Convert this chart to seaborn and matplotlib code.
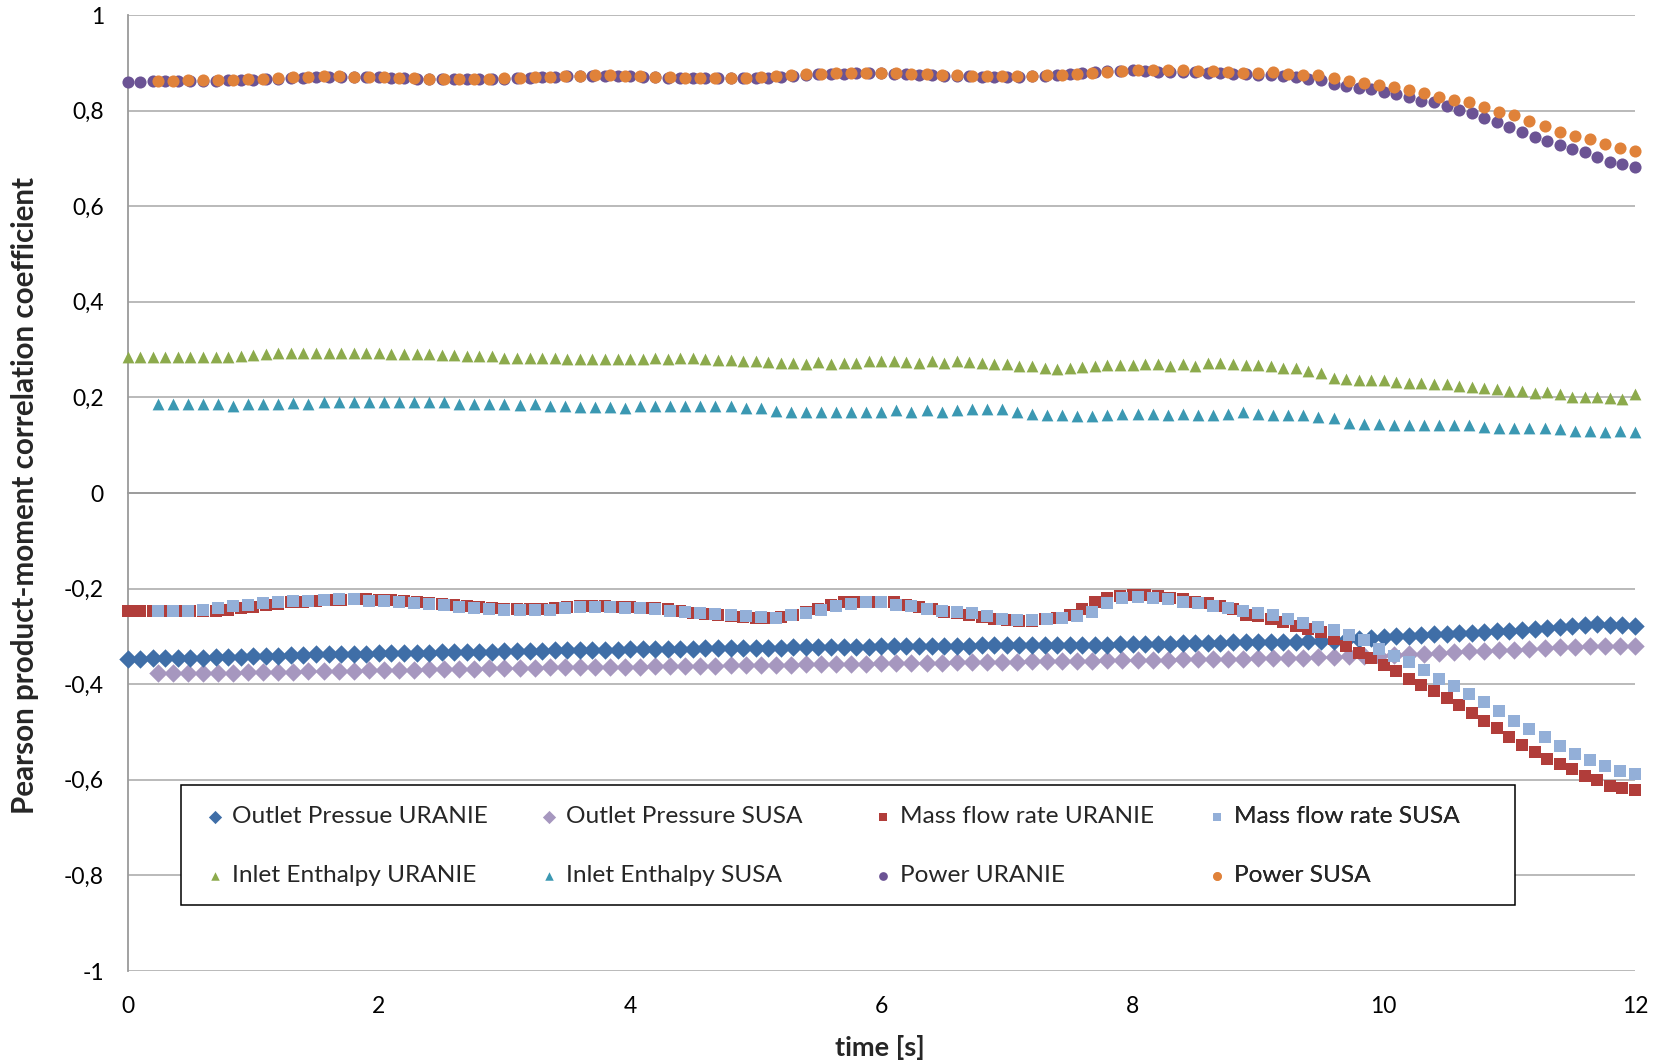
import numpy as np
import pandas as pd
import matplotlib
matplotlib.use("Agg")
import matplotlib.pyplot as plt
from matplotlib.patches import Rectangle
import seaborn as sns

# ---------------- data ----------------
# time grids
t_uranie = np.round(np.arange(121) * 0.1, 2)          # 0.0 ... 12.0
t_susa = np.round(0.24 + np.arange(99) * 0.12, 2)     # 0.24 ... 12.0

outlet_pressure_uranie = [
    -0.347, -0.347, -0.346, -0.346, -0.346, -0.345, -0.345, -0.344, -0.344, -0.343,
    -0.342, -0.341, -0.340, -0.339, -0.338, -0.337, -0.337, -0.336, -0.336, -0.336,
    -0.335, -0.335, -0.334, -0.334, -0.334, -0.333, -0.333, -0.333, -0.332, -0.332,
    -0.331, -0.331, -0.330, -0.330, -0.329, -0.329, -0.329, -0.328, -0.328, -0.328,
    -0.327, -0.327, -0.327, -0.326, -0.326, -0.326, -0.325, -0.325, -0.325, -0.325,
    -0.324, -0.324, -0.324, -0.323, -0.323, -0.323, -0.322, -0.322, -0.322, -0.322,
    -0.321, -0.321, -0.321, -0.321, -0.320, -0.320, -0.320, -0.320, -0.319, -0.319,
    -0.319, -0.319, -0.318, -0.318, -0.318, -0.318, -0.317, -0.317, -0.317, -0.316,
    -0.316, -0.316, -0.315, -0.315, -0.314, -0.314, -0.313, -0.313, -0.312, -0.312,
    -0.312, -0.311, -0.311, -0.311, -0.310, -0.310, -0.309, -0.308, -0.306, -0.304,
    -0.302, -0.300, -0.299, -0.297, -0.296, -0.294, -0.293, -0.292, -0.290, -0.289,
    -0.288, -0.286, -0.285, -0.283, -0.281, -0.279, -0.276, -0.274, -0.276, -0.277,
    -0.278]

outlet_pressure_susa = [
    -0.377, -0.377, -0.377, -0.376, -0.376, -0.376, -0.375, -0.375, -0.374,
    -0.374, -0.373, -0.373, -0.372, -0.372, -0.371, -0.371, -0.370, -0.370,
    -0.369, -0.369, -0.368, -0.368, -0.367, -0.367, -0.366, -0.366, -0.365,
    -0.365, -0.364, -0.364, -0.364, -0.363, -0.363, -0.362, -0.362, -0.361,
    -0.361, -0.361, -0.360, -0.360, -0.360, -0.359, -0.359, -0.358, -0.358,
    -0.358, -0.357, -0.357, -0.356, -0.356, -0.356, -0.355, -0.355, -0.354,
    -0.354, -0.354, -0.353, -0.353, -0.352, -0.352, -0.352, -0.351, -0.351,
    -0.350, -0.350, -0.350, -0.349, -0.349, -0.348, -0.348, -0.347, -0.347,
    -0.347, -0.346, -0.346, -0.345, -0.345, -0.344, -0.343, -0.342, -0.341,
    -0.340, -0.339, -0.337, -0.336, -0.334, -0.333, -0.331, -0.330, -0.329,
    -0.328, -0.326, -0.325, -0.323, -0.322, -0.321, -0.320, -0.321, -0.321]

mass_flow_uranie = [
    -0.247, -0.247, -0.247, -0.247, -0.247, -0.247, -0.247, -0.246, -0.244, -0.241,
    -0.238, -0.235, -0.232, -0.229, -0.227, -0.225, -0.224, -0.223, -0.222, -0.222,
    -0.223, -0.224, -0.226, -0.229, -0.231, -0.233, -0.235, -0.237, -0.239, -0.241,
    -0.242, -0.243, -0.243, -0.242, -0.240, -0.238, -0.237, -0.237, -0.237, -0.238,
    -0.239, -0.240, -0.241, -0.243, -0.246, -0.250, -0.253, -0.256, -0.258, -0.260,
    -0.261, -0.261, -0.260, -0.256, -0.248, -0.242, -0.235, -0.229, -0.228, -0.227,
    -0.228, -0.229, -0.234, -0.238, -0.243, -0.249, -0.251, -0.255, -0.259, -0.263,
    -0.266, -0.268, -0.267, -0.264, -0.262, -0.256, -0.242, -0.228, -0.220, -0.215,
    -0.213, -0.213, -0.215, -0.219, -0.222, -0.227, -0.231, -0.236, -0.242, -0.256,
    -0.257, -0.263, -0.270, -0.278, -0.284, -0.291, -0.305, -0.320, -0.334, -0.345,
    -0.359, -0.373, -0.389, -0.401, -0.415, -0.429, -0.443, -0.460, -0.476, -0.492,
    -0.510, -0.527, -0.541, -0.557, -0.567, -0.578, -0.592, -0.600, -0.614, -0.618,
    -0.621]

mass_flow_susa = [
    -0.247, -0.247, -0.247, -0.244, -0.241, -0.237, -0.235, -0.230, -0.228, -0.226,
    -0.225, -0.223, -0.222, -0.222, -0.225, -0.226, -0.227, -0.230, -0.233, -0.235,
    -0.239, -0.241, -0.242, -0.244, -0.245, -0.245, -0.244, -0.241, -0.239, -0.239,
    -0.239, -0.240, -0.240, -0.242, -0.246, -0.249, -0.251, -0.254, -0.256, -0.258,
    -0.260, -0.262, -0.256, -0.252, -0.245, -0.236, -0.232, -0.229, -0.229, -0.234,
    -0.237, -0.242, -0.246, -0.249, -0.252, -0.257, -0.263, -0.266, -0.266, -0.264,
    -0.261, -0.258, -0.249, -0.231, -0.220, -0.217, -0.219, -0.221, -0.227, -0.231,
    -0.236, -0.241, -0.247, -0.252, -0.256, -0.264, -0.273, -0.280, -0.287, -0.298,
    -0.308, -0.326, -0.341, -0.354, -0.371, -0.389, -0.404, -0.420, -0.438, -0.457,
    -0.476, -0.494, -0.511, -0.529, -0.546, -0.558, -0.572, -0.581, -0.587]

inlet_enthalpy_uranie = [
    0.285, 0.285, 0.285, 0.285, 0.285, 0.285, 0.285, 0.285, 0.285, 0.287,
    0.289, 0.290, 0.292, 0.292, 0.292, 0.292, 0.292, 0.292, 0.292, 0.292,
    0.292, 0.290, 0.290, 0.290, 0.290, 0.288, 0.288, 0.286, 0.286, 0.286,
    0.283, 0.283, 0.283, 0.283, 0.283, 0.280, 0.280, 0.280, 0.280, 0.280,
    0.280, 0.280, 0.282, 0.280, 0.282, 0.283, 0.280, 0.278, 0.278, 0.276,
    0.276, 0.274, 0.272, 0.272, 0.270, 0.274, 0.270, 0.272, 0.272, 0.276,
    0.276, 0.276, 0.274, 0.272, 0.276, 0.272, 0.276, 0.274, 0.272, 0.270,
    0.270, 0.266, 0.266, 0.262, 0.260, 0.261, 0.263, 0.266, 0.268, 0.268,
    0.268, 0.270, 0.270, 0.266, 0.270, 0.265, 0.272, 0.272, 0.270, 0.268,
    0.268, 0.266, 0.262, 0.261, 0.255, 0.252, 0.241, 0.239, 0.237, 0.236,
    0.236, 0.232, 0.231, 0.231, 0.229, 0.227, 0.224, 0.222, 0.220, 0.217,
    0.214, 0.213, 0.210, 0.212, 0.207, 0.201, 0.201, 0.200, 0.199, 0.197,
    0.207]

inlet_enthalpy_susa = [
    0.186, 0.186, 0.186, 0.186, 0.186, 0.183, 0.186, 0.186, 0.186, 0.189,
    0.187, 0.190, 0.190, 0.190, 0.190, 0.190, 0.190, 0.190, 0.190, 0.190,
    0.186, 0.186, 0.186, 0.186, 0.184, 0.186, 0.182, 0.182, 0.179, 0.179,
    0.179, 0.177, 0.181, 0.181, 0.181, 0.181, 0.183, 0.181, 0.181, 0.178,
    0.178, 0.172, 0.170, 0.170, 0.170, 0.170, 0.170, 0.170, 0.170, 0.174,
    0.170, 0.174, 0.170, 0.174, 0.175, 0.175, 0.175, 0.170, 0.165, 0.163,
    0.163, 0.161, 0.161, 0.163, 0.165, 0.166, 0.166, 0.164, 0.166, 0.164,
    0.164, 0.166, 0.170, 0.166, 0.164, 0.164, 0.163, 0.159, 0.157, 0.146,
    0.145, 0.145, 0.143, 0.143, 0.143, 0.142, 0.142, 0.142, 0.139, 0.137,
    0.136, 0.136, 0.136, 0.134, 0.130, 0.130, 0.128, 0.130, 0.128]

power_uranie = [
    0.860, 0.860, 0.861, 0.862, 0.862, 0.862, 0.862, 0.861, 0.863, 0.864,
    0.865, 0.866, 0.867, 0.868, 0.869, 0.870, 0.871, 0.871, 0.871, 0.871,
    0.870, 0.869, 0.868, 0.867, 0.867, 0.866, 0.866, 0.866, 0.866, 0.867,
    0.867, 0.868, 0.869, 0.870, 0.871, 0.872, 0.872, 0.873, 0.873, 0.873,
    0.872, 0.871, 0.870, 0.869, 0.868, 0.868, 0.868, 0.868, 0.868, 0.868,
    0.868, 0.869, 0.871, 0.873, 0.875, 0.876, 0.877, 0.877, 0.878, 0.878,
    0.878, 0.877, 0.876, 0.875, 0.874, 0.873, 0.872, 0.872, 0.871, 0.871,
    0.871, 0.871, 0.872, 0.873, 0.874, 0.876, 0.878, 0.880, 0.882, 0.883,
    0.884, 0.883, 0.881, 0.881, 0.881, 0.880, 0.879, 0.878, 0.877, 0.876,
    0.875, 0.874, 0.872, 0.870, 0.867, 0.863, 0.855, 0.852, 0.848, 0.845,
    0.839, 0.834, 0.829, 0.821, 0.817, 0.810, 0.801, 0.794, 0.784, 0.777,
    0.765, 0.755, 0.745, 0.736, 0.727, 0.719, 0.713, 0.703, 0.692, 0.688,
    0.683]

power_susa = [
    0.862, 0.862, 0.863, 0.863, 0.863, 0.864, 0.866, 0.867, 0.869, 0.870,
    0.871, 0.872, 0.872, 0.871, 0.870, 0.870, 0.869, 0.868, 0.867, 0.867,
    0.866, 0.866, 0.867, 0.868, 0.869, 0.870, 0.871, 0.872, 0.873, 0.874,
    0.874, 0.873, 0.872, 0.871, 0.870, 0.869, 0.869, 0.869, 0.869, 0.869,
    0.870, 0.872, 0.874, 0.876, 0.877, 0.878, 0.879, 0.879, 0.879, 0.878,
    0.877, 0.876, 0.875, 0.874, 0.873, 0.873, 0.872, 0.872, 0.873, 0.874,
    0.875, 0.877, 0.879, 0.881, 0.883, 0.885, 0.885, 0.885, 0.885, 0.883,
    0.883, 0.880, 0.878, 0.878, 0.880, 0.876, 0.875, 0.875, 0.869, 0.861,
    0.857, 0.854, 0.849, 0.843, 0.836, 0.829, 0.822, 0.817, 0.807, 0.798,
    0.791, 0.779, 0.768, 0.756, 0.747, 0.740, 0.730, 0.721, 0.716]

y_ticks = [-1, -0.8, -0.6, -0.4, -0.2, 0, 0.2, 0.4, 0.6, 0.8, 1]
y_tick_labels = ["-1", "-0,8", "-0,6", "-0,4", "-0,2", "0", "0,2", "0,4", "0,6", "0,8", "1"]
x_ticks = [0, 2, 4, 6, 8, 10, 12]
x_tick_labels = ["0", "2", "4", "6", "8", "10", "12"]

# (label, time, values, marker, colour, size) in drawing order
series = [
    ("Outlet Pressure SUSA", t_susa, outlet_pressure_susa, "D", "#A697BF", 88),
    ("Outlet Pressue URANIE", t_uranie, outlet_pressure_uranie, "D", "#3F6EA7", 88),
    ("Mass flow rate URANIE", t_uranie, mass_flow_uranie, "s", "#B13D3A", 68),
    ("Mass flow rate SUSA", t_susa, mass_flow_susa, "s", "#93AFD8", 68),
    ("Inlet Enthalpy URANIE", t_uranie, inlet_enthalpy_uranie, "^", "#8CAA4C", 72),
    ("Inlet Enthalpy SUSA", t_susa, inlet_enthalpy_susa, "^", "#3B98B2", 72),
    ("Power URANIE", t_uranie, power_uranie, "o", "#6B5394", 76),
    ("Power SUSA", t_susa, power_susa, "o", "#E0823A", 76),
]

# ---------------- style ----------------
sns.set_style("white")
plt.rcParams["font.family"] = ["Lato", "DejaVu Sans"]

W, H = 1668, 1062
fig = plt.figure(figsize=(W / 100, H / 100), dpi=100)
x0, x1, ytop, ybot = 127.6, 1635.0, 15.0, 971.0
ax = fig.add_axes([x0 / W, 1 - ybot / H, (x1 - x0) / W, (ybot - ytop) / H])

handles = {}
for label, t, vals, mk, col, s in series:
    df = pd.DataFrame({"t": t, "v": vals})
    sns.scatterplot(data=df, x="t", y="v", marker=mk, color=col, s=s,
                    linewidth=0, ax=ax, label=label, legend=False, zorder=3)
    coll = ax.collections[-1]
    coll.set_clip_on(False)
    handles[label] = coll

ax.set_xlim(0, 12)
ax.set_ylim(-1, 1)
ax.set_xlabel("")
ax.set_ylabel("")

# grid
grid_col = "#B4B4B4"
ax.set_yticks(y_ticks, y_tick_labels)
ax.yaxis.grid(True, color=grid_col, linewidth=1.3, zorder=0)
ax.set_axisbelow(True)

for sp in ["top", "right"]:
    ax.spines[sp].set_visible(False)
ax.spines["left"].set_color("#9A9A9A")
ax.spines["left"].set_linewidth(1.3)
ax.spines["bottom"].set_position(("data", 0))
ax.spines["bottom"].set_color("#9A9A9A")
ax.spines["bottom"].set_linewidth(1.3)

ax.set_xticks(x_ticks)
ax.set_xticks(np.arange(0, 12.01, 0.4), minor=True)
ax.tick_params(axis="x", which="major", direction="inout", length=15, width=1.3,
               color="#9A9A9A", labelbottom=False)
ax.tick_params(axis="x", which="minor", direction="inout", length=12, width=1.3,
               color="#9A9A9A")
ax.tick_params(axis="y", which="major", direction="out", length=7, width=1.3,
               color="#9A9A9A", labelsize=16.5, pad=10, labelcolor="black")

sec = ax.secondary_xaxis(location=0)
sec.set_xticks(x_ticks, x_tick_labels)
sec.tick_params(length=0, pad=18, labelsize=16.5, labelcolor="black")
sec.spines["bottom"].set_visible(False)

fig.text(880 / W, 1 - 1047 / H, "time [s]", ha="center", va="center",
         fontsize=19.5, fontweight="bold")
fig.text(25 / W, 1 - 495 / H, "Pearson product-moment correlation coefficient",
         ha="center", va="center", rotation=90, fontsize=21.3, fontweight="bold")

# ---------------- legend ----------------
cols = [
    ["Outlet Pressue URANIE", "Inlet Enthalpy URANIE"],
    ["Outlet Pressure SUSA", "Inlet Enthalpy SUSA"],
    ["Mass flow rate URANIE", "Power URANIE"],
    ["Mass flow rate SUSA", "Power SUSA"],
]
col_px = [205, 539, 873, 1207]
top_px = 806
axw, axh = x1 - x0, ybot - ytop
for i, labs in enumerate(cols):
    leg = ax.legend([handles[l] for l in labs], labs, loc="upper left",
                    bbox_to_anchor=((col_px[i] - x0) / axw, (ybot - top_px) / axh),
                    frameon=False, fontsize=17.6, markerscale=0.72, handlelength=0.8,
                    handletextpad=0.3, labelspacing=1.56, borderpad=0,
                    borderaxespad=0, scatterpoints=1)
    ax.add_artist(leg)

frame = Rectangle(((181 - x0) / axw, (ybot - 905) / axh), (1515 - 181) / axw,
                  (905 - 785) / axh, transform=ax.transAxes, fill=True,
                  facecolor="white", edgecolor="black", linewidth=1.1, zorder=4)
ax.add_patch(frame)
for a in ax.artists:
    a.set_zorder(5)

fig.savefig("out.png", dpi=100)
